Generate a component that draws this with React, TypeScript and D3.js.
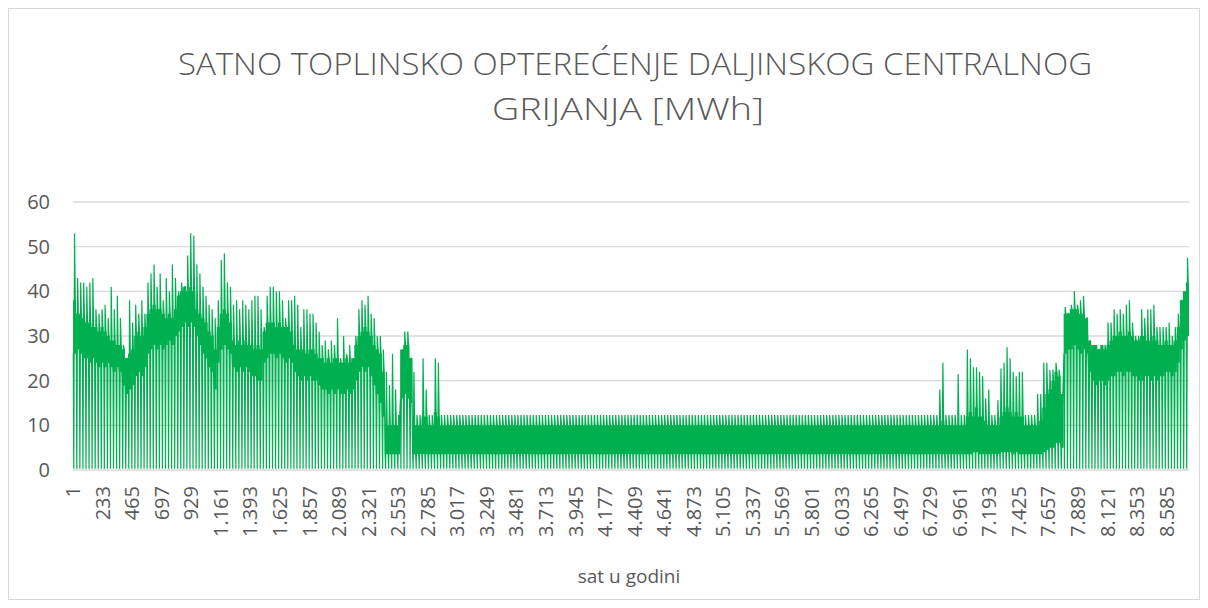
import React from 'react'
import * as d3 from 'd3'

// x-axis tick labels (hour of year, every 232nd category)
const tickHours = [
  1, 233, 465, 697, 929, 1161, 1393, 1625, 1857, 2089, 2321, 2553, 2785,
  3017, 3249, 3481, 3713, 3945, 4177, 4409, 4641, 4873, 5105, 5337, 5569,
  5801, 6033, 6265, 6497, 6729, 6961, 7193, 7425, 7657, 7889, 8121, 8353, 8585
]
const yTicks = [0, 10, 20, 30, 40, 50, 60]

// daily peak load [MWh], day 0..364
const dailyPeak = [
  53, 43, 42, 42, 41, 42, 43, 36, 35, 36, 37, 34, 41, 36, 39, 34, 28, 25, 38, 33,
  37, 35, 38, 35, 42, 44, 46, 41, 44, 38, 43, 40, 46, 43, 40, 42, 41, 48, 53, 52.5,
  46, 44, 41, 39, 37, 36, 34, 38, 47, 48.5, 42, 41, 37, 38, 36, 38, 37, 36, 38, 39,
  39, 36, 32, 39, 41, 41, 40, 40, 38, 34, 38, 38, 39, 37, 32, 36, 36, 35, 35, 33,
  31, 28, 29, 27, 29, 28, 34, 25, 30, 26, 28, 24, 30, 36, 38, 37, 39, 35, 34, 30,
  30, 27, 22, 19, 26, 18, 12.3, 26, 31, 31, 25, 22, 12.3, 12.3, 25, 18, 12.3, 12.3, 25, 24,
  12.3, 12.3, 12.3, 12.3, 12.3, 12.3, 12.3, 12.3, 12.3, 12.3, 12.3, 12.3, 12.3, 12.3, 12.3, 12.3, 12.3, 12.3, 12.3, 12.3,
  12.3, 12.3, 12.3, 12.3, 12.3, 12.3, 12.3, 12.3, 12.3, 12.3, 12.3, 12.3, 12.3, 12.3, 12.3, 12.3, 12.3, 12.3, 12.3, 12.3,
  12.3, 12.3, 12.3, 12.3, 12.3, 12.3, 12.3, 12.3, 12.3, 12.3, 12.3, 12.3, 12.3, 12.3, 12.3, 12.3, 12.3, 12.3, 12.3, 12.3,
  12.3, 12.3, 12.3, 12.3, 12.3, 12.3, 12.3, 12.3, 12.3, 12.3, 12.3, 12.3, 12.3, 12.3, 12.3, 12.3, 12.3, 12.3, 12.3, 12.3,
  12.3, 12.3, 12.3, 12.3, 12.3, 12.3, 12.3, 12.3, 12.3, 12.3, 12.3, 12.3, 12.3, 12.3, 12.3, 12.3, 12.3, 12.3, 12.3, 12.3,
  12.3, 12.3, 12.3, 12.3, 12.3, 12.3, 12.3, 12.3, 12.3, 12.3, 12.3, 12.3, 12.3, 12.3, 12.3, 12.3, 12.3, 12.3, 12.3, 12.3,
  12.3, 12.3, 12.3, 12.3, 12.3, 12.3, 12.3, 12.3, 12.3, 12.3, 12.3, 12.3, 12.3, 12.3, 12.3, 12.3, 12.3, 12.3, 12.3, 12.3,
  12.3, 12.3, 12.3, 12.3, 12.3, 12.3, 12.3, 12.3, 12.3, 12.3, 12.3, 12.3, 12.3, 12.3, 12.3, 12.3, 12.3, 12.3, 12.3, 12.3,
  12.3, 12.3, 12.3, 18, 24, 12.3, 12.3, 12.3, 12.3, 21.5, 12.3, 12.3, 27, 25, 23, 23, 22, 21, 16, 18,
  12.3, 12.3, 15.6, 22.7, 24, 27.5, 25, 22, 21, 22, 22, 12.3, 12.3, 12.3, 12.3, 17, 17, 24, 24, 22.4,
  22.5, 24, 22.5, 12.3, 36.5, 35, 37, 40, 37, 38, 39, 34, 28, 27.5, 27, 27, 27.5, 28, 33, 33,
  36, 35, 36, 35, 37, 38, 33, 30, 30, 36, 34, 36, 36, 37, 32, 32, 32, 32, 33, 30,
  32, 35, 38, 39, 47.5
]

// lower edge of the dense daily band [MWh], day 0..364
const bandLow = [
  26, 27, 26, 25, 25, 24, 25, 24, 23, 24, 23, 24, 23, 22, 23, 22, 19, 17, 18, 19,
  21, 22, 21, 23, 26, 27, 28, 27, 28, 27, 28, 29, 28, 30, 31, 32, 33, 32, 33, 32,
  30, 28, 26, 25, 23, 22, 18, 24, 27, 28, 27, 26, 23, 22, 23, 22, 23, 22, 21, 21,
  20, 20, 24, 25, 26, 26, 25, 26, 25, 24, 25, 24, 22, 21, 20, 21, 20, 21, 20, 20,
  19, 18, 18, 17, 18, 17, 18, 17, 17, 18, 17, 18, 20, 22, 23, 22, 23, 21, 19, 17,
  15, 12, 3.5, 3.5, 3.5, 3.5, 3.5, 16, 17, 16, 15, 3.5, 3.5, 3.5, 3.5, 3.5, 3.5, 3.5, 3.5, 3.5,
  3.5, 3.5, 3.5, 3.5, 3.5, 3.5, 3.5, 3.5, 3.5, 3.5, 3.5, 3.5, 3.5, 3.5, 3.5, 3.5, 3.5, 3.5, 3.5, 3.5,
  3.5, 3.5, 3.5, 3.5, 3.5, 3.5, 3.5, 3.5, 3.5, 3.5, 3.5, 3.5, 3.5, 3.5, 3.5, 3.5, 3.5, 3.5, 3.5, 3.5,
  3.5, 3.5, 3.5, 3.5, 3.5, 3.5, 3.5, 3.5, 3.5, 3.5, 3.5, 3.5, 3.5, 3.5, 3.5, 3.5, 3.5, 3.5, 3.5, 3.5,
  3.5, 3.5, 3.5, 3.5, 3.5, 3.5, 3.5, 3.5, 3.5, 3.5, 3.5, 3.5, 3.5, 3.5, 3.5, 3.5, 3.5, 3.5, 3.5, 3.5,
  3.5, 3.5, 3.5, 3.5, 3.5, 3.5, 3.5, 3.5, 3.5, 3.5, 3.5, 3.5, 3.5, 3.5, 3.5, 3.5, 3.5, 3.5, 3.5, 3.5,
  3.5, 3.5, 3.5, 3.5, 3.5, 3.5, 3.5, 3.5, 3.5, 3.5, 3.5, 3.5, 3.5, 3.5, 3.5, 3.5, 3.5, 3.5, 3.5, 3.5,
  3.5, 3.5, 3.5, 3.5, 3.5, 3.5, 3.5, 3.5, 3.5, 3.5, 3.5, 3.5, 3.5, 3.5, 3.5, 3.5, 3.5, 3.5, 3.5, 3.5,
  3.5, 3.5, 3.5, 3.5, 3.5, 3.5, 3.5, 3.5, 3.5, 3.5, 3.5, 3.5, 3.5, 3.5, 3.5, 3.5, 3.5, 3.5, 3.5, 3.5,
  3.5, 3.5, 3.5, 3.5, 3.5, 3.5, 3.5, 3.5, 3.5, 3.5, 3.5, 3.5, 3.5, 3.5, 4, 4, 3.5, 3.5, 3.5, 3.5,
  3.5, 3.5, 3.5, 4, 4, 4, 4, 3.5, 4, 3.5, 3.5, 3.5, 3.5, 3.5, 3.5, 3.5, 3.5, 4, 4.5, 5,
  5, 6, 6, 5, 26, 27, 27, 28, 27, 26, 27, 26, 22, 20, 19, 20, 20, 19, 20, 21,
  21, 22, 22, 21, 22, 22, 21, 21, 20, 20, 21, 21, 20, 21, 20, 21, 21, 22, 22, 21,
  22, 24, 27, 29, 30
]

// upper edge of the dense daily band [MWh], day 0..364
const bandHigh = [
  38, 35, 35, 34, 33, 33, 32, 32, 31, 32, 31, 30, 29, 29, 28, 28, 27, 25, 26, 27,
  30, 31, 30, 32, 35, 36, 37, 36, 36, 35, 34, 35, 34, 36, 39, 40, 41, 40, 41, 40,
  36, 35, 34, 33, 31, 30, 27, 32, 35, 36, 35, 33, 29, 28, 29, 28, 29, 28, 28, 27,
  28, 27, 31, 33, 33, 33, 32, 33, 32, 32, 32, 31, 28, 27, 27, 27, 26, 27, 27, 26,
  25, 25, 24, 25, 24, 25, 25, 24, 24, 25, 24, 25, 28, 30, 31, 32, 31, 30, 28, 27,
  26, 22, 10, 10, 10, 10, 10, 27, 28, 28, 25, 10, 10, 10, 12, 12, 10, 10, 13, 12,
  10, 10, 10, 10, 10, 10, 10, 10, 10, 10, 10, 10, 10, 10, 10, 10, 10, 10, 10, 10,
  10, 10, 10, 10, 10, 10, 10, 10, 10, 10, 10, 10, 10, 10, 10, 10, 10, 10, 10, 10,
  10, 10, 10, 10, 10, 10, 10, 10, 10, 10, 10, 10, 10, 10, 10, 10, 10, 10, 10, 10,
  10, 10, 10, 10, 10, 10, 10, 10, 10, 10, 10, 10, 10, 10, 10, 10, 10, 10, 10, 10,
  10, 10, 10, 10, 10, 10, 10, 10, 10, 10, 10, 10, 10, 10, 10, 10, 10, 10, 10, 10,
  10, 10, 10, 10, 10, 10, 10, 10, 10, 10, 10, 10, 10, 10, 10, 10, 10, 10, 10, 10,
  10, 10, 10, 10, 10, 10, 10, 10, 10, 10, 10, 10, 10, 10, 10, 10, 10, 10, 10, 10,
  10, 10, 10, 10, 10, 10, 10, 10, 10, 10, 10, 10, 10, 10, 10, 10, 10, 10, 10, 10,
  10, 10, 10, 10, 11, 10, 10, 10, 10, 10, 10, 10, 12, 13, 12, 14, 12, 12, 11, 10,
  10, 10, 10, 12, 13, 14, 13, 12, 13, 12, 12, 10, 10, 10, 10, 10, 11, 14, 17, 18,
  20, 22, 21, 17, 35, 35, 36, 36, 36, 35, 35, 34, 29, 28, 28, 27, 28, 27, 28, 29,
  30, 30, 31, 30, 30, 31, 30, 29, 29, 30, 30, 29, 29, 30, 29, 28, 28, 29, 28, 28,
  29, 32, 38, 40, 42
]

// nightly minimum, about the same all year
const nightLow = 0.3

const GREEN = '#00B050'
const GREY = '#595959'
const FONT = '"Open Sans", sans-serif'

export default function App() {
  const width = 1208
  const height = 608
  const left = 73
  const right = 1189
  const top = 202
  const bottom = 470
  const hours = 8760

  const x = d3.scaleLinear().domain([0, hours]).range([left, right])
  const y = d3.scaleLinear().domain([0, 60]).range([bottom, top])
  const fmt = d3
    .formatLocale({ decimal: ',', thousands: '.', grouping: [3], currency: ['', ''] })
    .format(',d')

  // dense band, one step per day
  const bandPts = bandLow.map((lo, d) => ({ h: d * 24, lo, hi: bandHigh[d] }))
  const last = bandPts[bandPts.length - 1]
  bandPts.push({ h: hours, lo: last.lo, hi: last.hi })
  const area = d3
    .area<{ h: number; lo: number; hi: number }>()
    .x(d => x(d.h))
    .y0(d => y(d.lo))
    .y1(d => y(d.hi))
    .curve(d3.curveStepAfter)

  // daily swing: band -> night low -> peak -> band
  const linePts: [number, number][] = []
  dailyPeak.forEach((p, d) => {
    linePts.push(
      [d * 24 + 2, bandLow[d]],
      [d * 24 + 6, nightLow],
      [d * 24 + 12, p],
      [d * 24 + 18, bandHigh[d]]
    )
  })
  const line = d3
    .line<[number, number]>()
    .x(d => x(d[0]))
    .y(d => y(d[1]))

  return (
    <svg
      width={width}
      height={height}
      style={{ position: 'absolute', left: 0, top: 0, background: '#fff' }}
    >
      <rect x={8.5} y={8.5} width={1191} height={591} fill="#fff" stroke="#D9D9D9" />

      <text
        x={635}
        y={75}
        textAnchor="middle"
        fontFamily={FONT}
        fontWeight={300}
        fontSize={31}
        fill={GREY}
        textLength={914}
        lengthAdjust="spacingAndGlyphs"
      >
        SATNO TOPLINSKO OPTEREĆENJE DALJINSKOG CENTRALNOG
      </text>
      <text
        x={628}
        y={120}
        textAnchor="middle"
        fontFamily={FONT}
        fontWeight={300}
        fontSize={31}
        fill={GREY}
        textLength={272}
        lengthAdjust="spacingAndGlyphs"
      >
        GRIJANJA [MWh]
      </text>

      {yTicks.map(t => (
        <g key={t}>
          <line x1={left} x2={right} y1={y(t)} y2={y(t)} stroke="#D9D9D9" strokeWidth={1.3} />
          <text
            x={50}
            y={y(t)}
            dy="0.35em"
            textAnchor="end"
            fontFamily={FONT}
            fontSize={20}
            fill={GREY}
          >
            {t}
          </text>
        </g>
      ))}

      <path d={area(bandPts) || ''} fill={GREEN} />
      <path d={line(linePts) || ''} fill="none" stroke={GREEN} strokeWidth={1.2} />

      {tickHours.map(h => {
        const cx = x(h - 0.5)
        return (
          <text
            key={h}
            transform={`translate(${cx},486) rotate(-90)`}
            dy="0.35em"
            textAnchor="end"
            fontFamily={FONT}
            fontSize={20}
            fill={GREY}
          >
            {fmt(h)}
          </text>
        )
      })}

      <text x={629} y={583} textAnchor="middle" fontFamily={FONT} fontSize={19} fill={GREY}>
        sat u godini
      </text>
    </svg>
  )
}
